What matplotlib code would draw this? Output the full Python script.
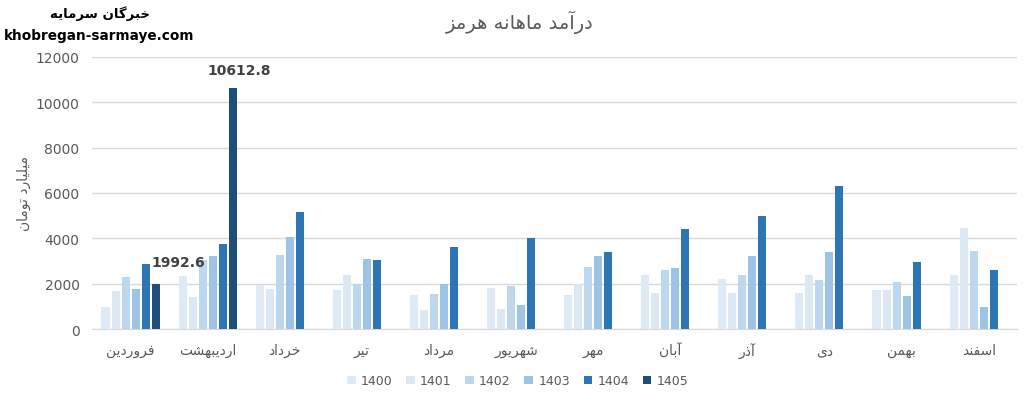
import numpy as np
import matplotlib
matplotlib.use('Agg')
import matplotlib.pyplot as plt

# data
months = ['فروردین', 'اردیبهشت', 'خرداد', 'تیر', 'مرداد', 'شهریور',
          'مهر', 'آبان', 'آذر', 'دی', 'بهمن', 'اسفند']
years = ['1400', '1401', '1402', '1403', '1404', '1405']

v1400 = [985, 2340, 1943, 1722, 1501, 1810, 1501, 2384, 2207, 1589, 1722, 2384]
v1401 = [1678, 1413, 1766, 2384, 839, 883, 1987, 1589, 1589, 2384, 1722, 4459]
v1402 = [2296, 3046, 3267, 1987, 1545, 1898, 2737, 2605, 2384, 2163, 2075, 3444]
v1403 = [1766, 3223, 4062, 3090, 1987, 1060, 3223, 2693, 3223, 3400, 1457, 971]
v1404 = [2870, 3752, 5165, 3046, 3620, 4018, 3400, 4415, 4989, 6313, 2958, 2605]
v1405 = [1992.6, 10612.8, np.nan, np.nan, np.nan, np.nan,
         np.nan, np.nan, np.nan, np.nan, np.nan, np.nan]

colors = ['#DEEBF7', '#DDE8F5', '#BDD7EE', '#9DC3E6', '#2E75B6', '#1F4E79']

# minimal arabic/persian shaping (matplotlib has no shaping of its own)
FORMS = {
    'ا': ('\uFE8D', '\uFE8E', None, None),
    'آ': ('\uFE81', '\uFE82', None, None),
    'ب': ('\uFE8F', '\uFE90', '\uFE91', '\uFE92'),
    'ت': ('\uFE95', '\uFE96', '\uFE97', '\uFE98'),
    'خ': ('\uFEA5', '\uFEA6', '\uFEA7', '\uFEA8'),
    'د': ('\uFEA9', '\uFEAA', None, None),
    'ذ': ('\uFEAB', '\uFEAC', None, None),
    'ر': ('\uFEAD', '\uFEAE', None, None),
    'ز': ('\uFEAF', '\uFEB0', None, None),
    'س': ('\uFEB1', '\uFEB2', '\uFEB3', '\uFEB4'),
    'ش': ('\uFEB5', '\uFEB6', '\uFEB7', '\uFEB8'),
    'ف': ('\uFED1', '\uFED2', '\uFED3', '\uFED4'),
    'ل': ('\uFEDD', '\uFEDE', '\uFEDF', '\uFEE0'),
    'م': ('\uFEE1', '\uFEE2', '\uFEE3', '\uFEE4'),
    'ن': ('\uFEE5', '\uFEE6', '\uFEE7', '\uFEE8'),
    'ه': ('\uFEE9', '\uFEEA', '\uFEEB', '\uFEEC'),
    'و': ('\uFEED', '\uFEEE', None, None),
    'ی': ('\uFBFC', '\uFBFD', '\uFBFE', '\uFBFF'),
    'گ': ('\uFB92', '\uFB93', '\uFB94', '\uFB95'),
}


def fa(text):
    out = []
    for i, c in enumerate(text):
        if c not in FORMS:
            out.append(c)
            continue
        prev = text[i - 1] if i > 0 else None
        nxt = text[i + 1] if i + 1 < len(text) else None
        jp = prev in FORMS and FORMS[prev][2] is not None
        jn = nxt in FORMS and FORMS[c][2] is not None
        iso, fin, ini, med = FORMS[c]
        if jp and jn:
            out.append(med)
        elif jp:
            out.append(fin)
        elif jn:
            out.append(ini)
        else:
            out.append(iso)
    return ''.join(reversed(out))


plt.rcParams['font.family'] = ['DejaVu Sans']
gray = '#595959'

fig = plt.figure(figsize=(10.28, 4.02), dpi=100)
ax = fig.add_axes([0.0895, 0.179, 0.900, 0.677])

series = [v1400, v1401, v1402, v1403, v1404, v1405]
x = np.arange(len(months))
step = 0.13
bw = 0.104
bars = []
for k, (vals, col) in enumerate(zip(series, colors)):
    b = ax.bar(x + (k - 2.5) * step, vals, width=bw, color=col, label=years[k], zorder=3)
    bars.append(b)

# data labels on 1405
r0 = bars[5][0]
ax.annotate(f'{v1405[0]}', (r0.get_x(), v1405[0]), xytext=(0, 16), textcoords='offset points',
            ha='left', va='center', fontsize=10, fontweight='bold', color='#404040')
r1 = bars[5][1]
ax.annotate(f'{v1405[1]}', (r1.get_x() + r1.get_width() / 2, v1405[1]), xytext=(5, 13),
            textcoords='offset points', ha='center', va='center', fontsize=10,
            fontweight='bold', color='#404040')

ax.set_xlim(-0.5, 11.5)
ax.set_ylim(0, 12000)
ax.set_yticks(range(0, 12001, 2000))
ax.set_xticks(x)
ax.set_xticklabels([fa(m) for m in months], fontsize=10, color=gray)
ax.tick_params(axis='y', labelsize=10, colors=gray, length=0, pad=9)
ax.tick_params(axis='x', length=0, pad=10)
ax.grid(axis='y', color='#D9D9D9', linewidth=1, zorder=0)
for s in ['top', 'right', 'left']:
    ax.spines[s].set_visible(False)
ax.spines['bottom'].set_color('#D9D9D9')

ax.set_ylabel(fa('میلیارد تومان'), fontsize=10, color=gray)
ax.yaxis.set_label_coords(-0.066, 0.5)

fig.text(0.505, 0.945, fa('درآمد ماهانه هرمز'), ha='center', va='center', fontsize=14, color=gray)
fig.text(0.097, 0.966, fa('خبرگان سرمایه'), ha='center', va='center', fontsize=9.5,
         fontweight='bold', color='black')
fig.text(0.096, 0.91, 'khobregan-sarmaye.com', ha='center', va='center', fontsize=9.8,
         fontweight='bold', color='black')

leg = ax.legend(loc='center', bbox_to_anchor=(0.46, -0.19), ncol=6, frameon=False,
                fontsize=9, handlelength=0.7, handleheight=0.7, handletextpad=0.4,
                columnspacing=1.1)
for t in leg.get_texts():
    t.set_color(gray)

fig.savefig('out.png', dpi=100)
